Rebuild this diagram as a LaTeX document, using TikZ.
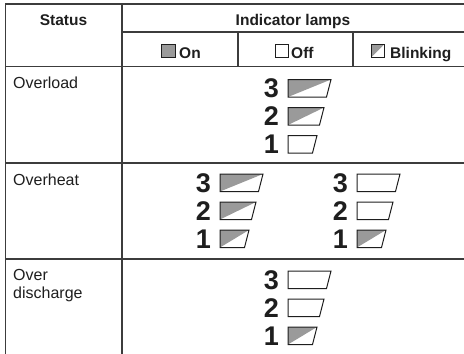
\documentclass[tikz,border=0pt]{standalone}
\usepackage{fontspec}
\setmainfont{Liberation Sans}
\definecolor{gridc}{HTML}{3C3C3C}
\definecolor{lampgray}{HTML}{9A9A9A}
\definecolor{txtc}{HTML}{1E1E1E}
\tikzset{
  gridline/.style={draw=gridc, line width=1.3pt},
  lampline/.style={draw=txtc, line width=1pt, line join=miter},
  lbl/.style={inner sep=0pt, text=txtc, font=\fontsize{16}{18}\selectfont},
  hdr/.style={inner sep=0pt, text=txtc, font=\bfseries\fontsize{15.5}{18}\selectfont},
  digit/.style={inner sep=0pt, text=txtc, font=\bfseries\fontsize{27}{30}\selectfont},
}
% #1 left x, #2 top y, #3 width, #4 state (1 = blinking, 0 = off), #5 digit
\newcommand{\mylamp}[5]{%
  \ifnum#4=1
    \fill[lampgray] (#1,#2+17.5) -- (#1,#2) -- (#1+#3,#2) -- cycle;
  \fi
  \draw[lampline] (#1,#2) -- (#1+#3,#2) -- (#1+#3-4.5,#2+17.5) -- (#1,#2+17.5) -- cycle;
  \node[digit, anchor=base east] at (#1-9,#2+18) {#5};
}
\begin{document}
\begin{tikzpicture}[x=1pt,y=-1pt]
\useasboundingbox (0,0) rectangle (464,354);
% grid
\draw[gridline] (5.5,354) -- (5.5,4) -- (464,4);
\draw[gridline] (122,4) -- (122,354);
\draw[gridline] (122,32) -- (464,32);
\draw[gridline] (238,32) -- (238,66);
\draw[gridline] (353,32) -- (353,66);
\draw[gridline] (5.5,66.5) -- (464,66.5);
\draw[gridline] (5.5,163) -- (464,163);
\draw[gridline] (5.5,259) -- (464,259);
% header
\node[hdr, anchor=base] (status) at (63.5,25) {Status};
\node[hdr, anchor=base] (ind) at (293,25) {Indicator lamps};
\draw[lampline, fill=lampgray] (161.5,44) rectangle (175,57.5);
\node[hdr, anchor=base west] (on) at (179,58.5) {On};
\draw[lampline] (275,44) rectangle (288.5,57.5);
\node[hdr, anchor=base west] (off) at (291,58.5) {Off};
\fill[lampgray] (371,57.5) -- (371,44) -- (384.5,44) -- cycle;
\draw[lampline] (371,44) rectangle (384.5,57.5);
\node[hdr, anchor=base west] (blink) at (390,58.5) {Blinking};
% status labels
\node[lbl, anchor=base west] (overload) at (13,88) {Overload};
\node[lbl, anchor=base west] (overheat) at (13,185) {Overheat};
\node[lbl, anchor=base west] (over) at (13,280) {Over};
\node[lbl, anchor=base west] (discharge) at (13,298) {discharge};
% Overload
\mylamp{288}{79.5}{43}{1}{3}
\mylamp{288}{107.5}{36}{1}{2}
\mylamp{288}{135.5}{29}{0}{1}
% Overheat left
\mylamp{220}{174}{43}{1}{3}
\mylamp{220}{202}{36}{1}{2}
\mylamp{220}{230}{29}{1}{1}
% Overheat right
\mylamp{357}{174}{43}{0}{3}
\mylamp{357}{202}{36}{0}{2}
\mylamp{357}{230}{29}{1}{1}
% Over discharge
\mylamp{288}{271}{43}{0}{3}
\mylamp{288}{299}{36}{0}{2}
\mylamp{288}{327}{29}{1}{1}
\end{tikzpicture}
\end{document}
